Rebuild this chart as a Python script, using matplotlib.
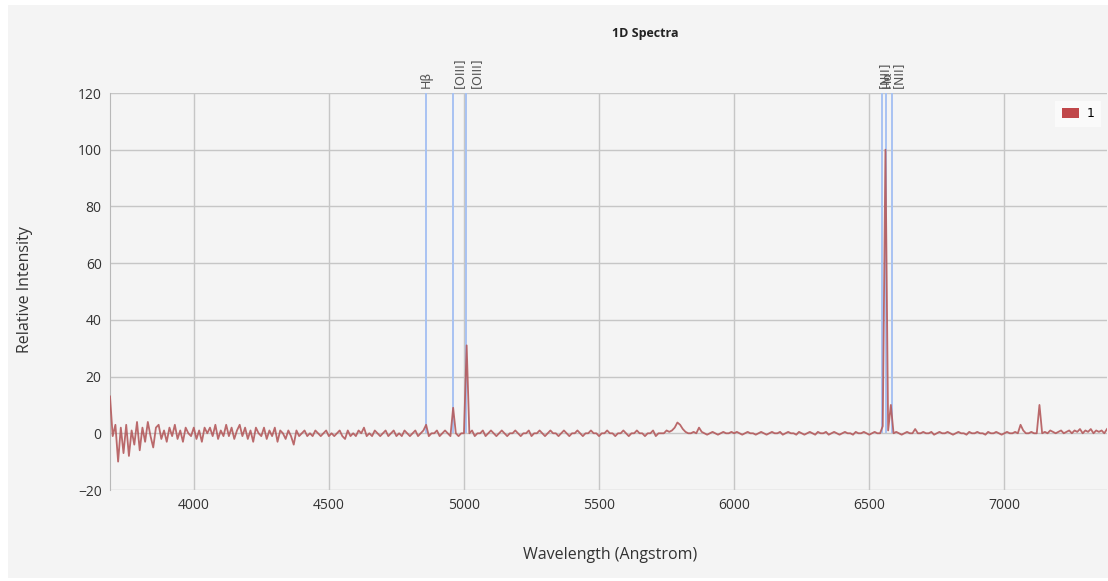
import numpy as np
import matplotlib
matplotlib.use("Agg")
import matplotlib.pyplot as plt
from matplotlib.patches import Rectangle

# ---- data ----
wl_start = 3690
wl_step = 10
flux = [
    13, -1, 3, -10, 2, -7, 3, -8, 1, -4,          # 3690
    4, -6, 2, -3, 4, -1, -5, 2, 3, -2,            # 3790
    1, -3, 2, -1, 3, -2, 1, -3, 2, 0,             # 3890
    -1, 2, -2, 1, -3, 2, 0, 2, -1, 3,             # 3990
    -2, 1, -1, 3, -1, 2, -2, 1, 3, -1,            # 4090
    2, -2, 1, -3, 2, 0, -1, 2, -2, 1,             # 4190
    -1, 2, -3, 1, 0, -2, 1, -1, -4, 1,            # 4290
    -1, 0, 1, -1, 0, -1, 1, 0, -1, 0,             # 4390
    1, -1, 0, -1, 0, 1, -1, -2, 1, -1,            # 4490
    0, -1, 1, 0, 2, -1, 0, -1, 1, 0,              # 4590
    -1, 0, 1, -1, 0, 1, -1, 0, -1, 1,             # 4690
    0, -1, 0, 1, -1, 0, 1, 3, -1, 0,              # 4790
    0, 1, -1, 0, 1, 0, -1, 9, 0, -1,              # 4890
    0, 0, 31, 0, 1, -1, 0, 0, 1, -1,              # 4990
    0, 1, 0, -1, 0, 1, 0, -1, 0, 0,               # 5090
    1, 0, -1, 0, 0, 1, -1, 0, 0, 1,               # 5190
    0, -1, 0, 1, 0, 0, -1, 0, 1, 0,               # 5290
    -1, 0, 0, 1, 0, -1, 0, 0, 1, 0,               # 5390
    0, -1, 0, 0, 1, 0, 0, -1, 0, 0,               # 5490
    1, 0, -1, 0, 0, 1, 0, 0, -1, 0,               # 5590
    0, 1, -1, 0, 0, 0, 1, 0.5, 1, 2,              # 5690
    3.8, 3, 1.5, 0.5, 0, 0, 0.5, 0, 2, 0.5,       # 5790
    0, -0.5, 0, 0.5, 0, -0.5, 0, 0.5, 0, 0,       # 5890
    0.5, 0, 0.5, 0, -0.5, 0, 0.5, 0, 0, -0.5,     # 5990
    0, 0.5, 0, -0.5, 0, 0.5, 0, 0, 0.5, -0.5,     # 6090
    0, 0.5, 0, 0, -0.5, 0.5, 0, -0.5, 0, 0.5,     # 6190
    0, -0.5, 0.5, 0, 0, 0.5, -0.5, 0, 0.5, 0,     # 6290
    -0.5, 0, 0.5, 0, 0, -0.5, 0.5, 0, 0, 0.5,     # 6390
    0, -0.5, 0, 0.5, 0, 0, 2.5, 100, 1, 10,       # 6490
    0, 0.5, 0, -0.5, 0, 0.5, 0, 0, 1.5, 0,        # 6590
    0, 0.5, 0, 0, 0.5, -0.5, 0, 0.5, 0, 0,        # 6690
    0.5, 0, -0.5, 0, 0.5, 0, 0, -0.5, 0.5, 0,     # 6790
    0, 0.5, 0, 0, -0.5, 0.5, 0, 0, 0.5, 0,        # 6890
    -0.5, 0, 0.5, 0, 0, 0.5, 0, 3, 1, 0,          # 6990
    0, 0.5, 0, 0, 10, 0, 0.5, 0, 1, 0.5,          # 7090
    0, 0.5, 1, 0, 0.5, 1, 0, 1, 0.5, 1.5,         # 7190
    0, 1, 0.5, 1.5, 0, 1, 0.5, 1, 0, 1.5,         # 7290
]
wavelength = wl_start + wl_step * np.arange(len(flux))

line_names = ["H\u03b2", "[OIII]", "[OIII]", "[NII]", "H\u03b1", "[NII]"]
line_wl = [4861, 4959, 5007, 6548, 6563, 6584]
label_dx_px = [0, 7, 11, 2, 1, 6]   # label dodge in pixels

x_ticks = [4000, 4500, 5000, 5500, 6000, 6500, 7000]
y_ticks = [-20, 0, 20, 40, 60, 80, 100, 120]
series_name = "1"

# ---- figure ----
W, H = 1108, 581
fig = plt.figure(figsize=(W / 100, H / 100), dpi=100, facecolor="white")
bg = "#f4f4f4"
fig.patches.append(Rectangle((8 / W, 3 / H), 1 - 8 / W, 1 - 8 / H,
                             transform=fig.transFigure, facecolor=bg,
                             edgecolor="none", zorder=-10))

ax = fig.add_axes([110 / W, 1 - 490 / H, (1107 - 110) / W, (490 - 93) / H])
ax.set_facecolor(bg)

ax.set_xlim(3690, 7380)
ax.set_ylim(-20, 120)
ax.set_xticks(x_ticks)
ax.set_yticks(y_ticks)
ax.grid(True, color="#c6c6c6", linewidth=1.0)
ax.set_axisbelow(True)
for s in ["top", "right", "bottom"]:
    ax.spines[s].set_visible(False)
ax.spines["left"].set_color("#b8b8b8")
ax.tick_params(length=0, labelsize=10, colors="#333333", pad=6)
for lab in ax.get_xticklabels() + ax.get_yticklabels():
    lab.set_fontfamily("Open Sans")

# emission lines
ax.vlines(line_wl, 0, 120, colors="#a8c2f2", linewidth=1.4, zorder=2)

# spectrum
ax.plot(wavelength, flux, color="#b45a5c", linewidth=1.3, alpha=0.9,
        zorder=3, label=series_name)

# line labels
from matplotlib.transforms import offset_copy
for name, w, dx in zip(line_names, line_wl, label_dx_px):
    tr = offset_copy(ax.get_xaxis_transform(), fig=fig, x=dx * 0.72, y=0,
                     units="points")
    ax.text(w, 1.012, name, transform=tr, rotation=90, ha="center",
            va="bottom", fontsize=9, color="#555555", family="DejaVu Sans")

# legend
leg_h = ax.legend(handles=[Rectangle((0, 0), 1, 1, facecolor="#c0474a",
                                     edgecolor="none")],
                  labels=[series_name], loc="upper right",
                  bbox_to_anchor=(1.0, 0.995), frameon=True,
                  facecolor="#fafafa", edgecolor="none", framealpha=1,
                  fontsize=9, handlelength=1.4, handleheight=0.9,
                  handletextpad=0.6, borderpad=0.5)
leg_h.get_frame().set_boxstyle("square", pad=0)

fig.text(645 / W, 1 - 33 / H, "1D Spectra", ha="center", va="center",
         fontsize=9, fontweight="bold", color="#222222", family="Open Sans")
fig.text(25 / W, 1 - 290 / H, "Relative Intensity", rotation=90,
         ha="center", va="center", fontsize=11.5, color="#333333",
         family="Open Sans")
fig.text(610 / W, 1 - 555 / H, "Wavelength (Angstrom)", ha="center",
         va="center", fontsize=11.5, color="#333333", family="Open Sans")

fig.savefig("out.png", dpi=100, facecolor=fig.get_facecolor())
